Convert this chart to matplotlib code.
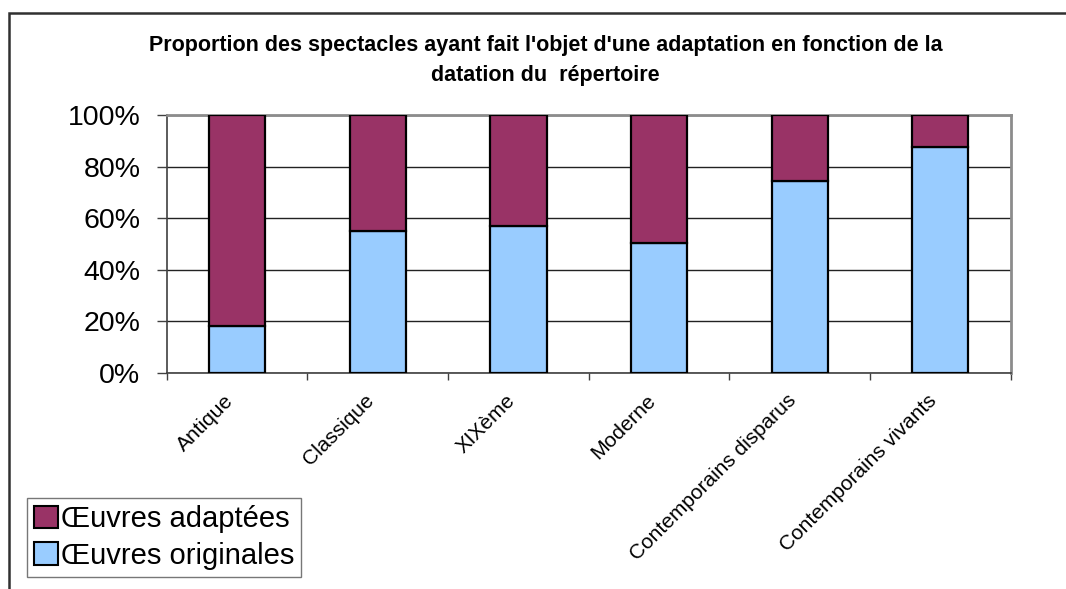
import matplotlib.pyplot as plt
import numpy as np
from matplotlib.patches import Rectangle, Patch
from matplotlib.ticker import FixedLocator, PercentFormatter

categories = ["Antique", "Classique", "XIXème", "Moderne",
              "Contemporains disparus", "Contemporains vivants"]
originales = [18.4, 55.2, 57.1, 50.3, 74.6, 87.7]
adaptees = [100 - v for v in originales]

plt.rcParams["font.family"] = ["Liberation Sans", "DejaVu Sans"]

fig = plt.figure(figsize=(10.66, 5.89), dpi=100)
ax = fig.add_axes([0.1564, 0.3667, 0.7917, 0.4381])

x = np.arange(len(categories))
ax.bar(x, originales, width=0.4, color="#99CCFF", edgecolor="black",
       linewidth=1.6, zorder=3)
ax.bar(x, adaptees, width=0.4, bottom=originales, color="#993366",
       edgecolor="black", linewidth=1.6, zorder=3)

ax.set_xlim(-0.5, len(categories) - 0.5)
ax.set_ylim(0, 100)
ax.set_yticks(np.arange(0, 101, 20))
ax.yaxis.set_major_formatter(PercentFormatter(decimals=0))
ax.tick_params(axis="y", labelsize=20.5, length=7, width=1, color="#404040", pad=12)

# category boundaries carry the tick marks, labels sit under the bars
ax.set_xticks(x)
ax.set_xticklabels(categories, rotation=45, ha="right", fontsize=15)
ax.xaxis.set_minor_locator(FixedLocator(np.arange(-0.5, len(categories), 1)))
ax.tick_params(axis="x", which="major", length=0, pad=13)
ax.tick_params(axis="x", which="minor", length=5, width=1, color="#404040")

ax.grid(axis="y", color="#222222", linewidth=1, zorder=0)
ax.set_axisbelow(True)
ax.spines["left"].set_color("#404040")
ax.spines["bottom"].set_color("#404040")
ax.spines["left"].set_linewidth(1.2)
ax.spines["bottom"].set_linewidth(1.2)
ax.spines["top"].set_color("#8c8c8c")
ax.spines["right"].set_color("#8c8c8c")
ax.spines["top"].set_linewidth(2)
ax.spines["right"].set_linewidth(2)

fig.text(0.512, 0.897,
         "Proportion des spectacles ayant fait l'objet d'une adaptation en fonction de la\n"
         "datation du  répertoire",
         ha="center", va="center", fontsize=15.5, fontweight="bold",
         linespacing=1.6)

handles = [Patch(facecolor="#993366", edgecolor="black", linewidth=1.5),
           Patch(facecolor="#99CCFF", edgecolor="black", linewidth=1.5)]
leg = fig.legend(handles, ["Œuvres adaptées", "Œuvres originales"],
                 loc="lower left", bbox_to_anchor=(0.0253, 0.0204),
                 fontsize=21, frameon=True, fancybox=False,
                 handlelength=0.8, handleheight=0.8, handletextpad=0.1,
                 labelspacing=0.3, borderpad=0.25, borderaxespad=0)
leg.get_frame().set_edgecolor("#555555")
leg.get_frame().set_linewidth(1)

# outer chart frame (only top and left edges are visible in the crop)
fig.add_artist(Rectangle((9 / 1066, -0.1), 1.2, 1 - 12.5 / 589 + 0.1,
                         transform=fig.transFigure, fill=False,
                         edgecolor="#303030", linewidth=1.8))

fig.savefig("out.png", dpi=100)
